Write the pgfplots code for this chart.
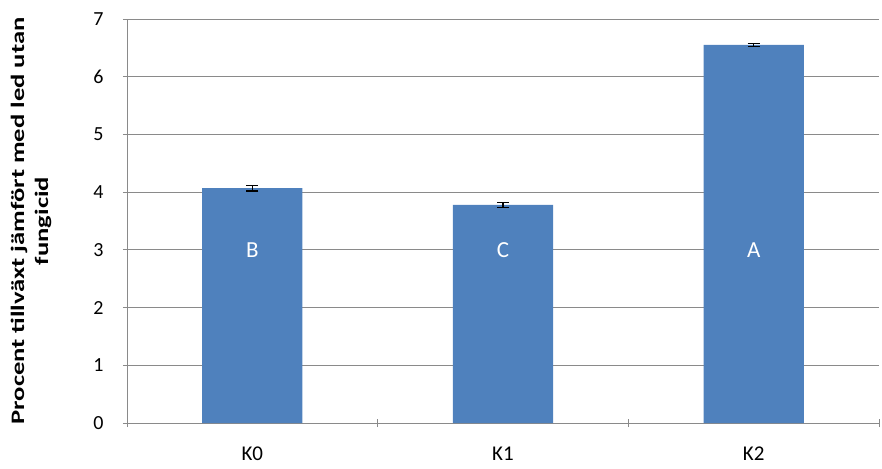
\documentclass[border=0pt]{standalone}
\usepackage{graphicx}
\usepackage{pgfplots}
\pgfplotsset{compat=1.18}
\usepackage{fontspec}
\setmainfont{Carlito}
\definecolor{barblue}{HTML}{4F81BD}
\definecolor{gridgray}{HTML}{8A8A8A}
\begin{document}
\begin{tikzpicture}
\begin{axis}[
  at={(0pt,0pt)}, anchor=south west,
  scale only axis,
  width=752pt, height=404pt,
  xmin=-0.5, xmax=2.5,
  ymin=0, ymax=7,
  ytick={0,1,2,3,4,5,6,7},
  xtick={0,1,2},
  xticklabels={K0,K1,K2},
  minor xtick={-0.5,0.5,1.5,2.5},
  major x tick style={draw=none},
  minor x tick style={gridgray, line width=0.8pt},
  minor tick length=8pt,
  major tick length=8pt,
  tick align=outside,
  axis lines=left,
  axis line style={-, gridgray, line width=0.8pt},
  ymajorgrids,
  grid style={gridgray, line width=0.8pt},
  ytick style={gridgray, line width=0.8pt},
  yticklabel style={font=\fontsize{20}{24}\selectfont, black, xshift=-16pt},
  xticklabel style={font=\fontsize{21}{25}\selectfont, black, yshift=-16pt},
  /pgf/number format/assume math mode=true,
  ylabel={\scalebox{1.4}[1]{Procent tillväxt jämfört med led utan}\\[3pt]\scalebox{1.4}[1]{fungicid}},
  ylabel style={font=\bfseries\fontsize{19}{21}\selectfont, align=center, at={(axis description cs:0,0.5)}, anchor=center, yshift=96pt, inner sep=0pt},
  clip=false,
]
\addplot[ybar, bar width=0.4, fill=barblue, draw=none,
  error bars/.cd, y dir=both, y explicit,
  error bar style={black, line width=1.2pt},
  error mark options={black, line width=1.2pt, mark size=6pt, rotate=90}]
  coordinates {(0,4.07) +- (0,0.05) (1,3.78) +- (0,0.04) (2,6.55) +- (0,0.03)};
\node[white, font=\fontsize{23}{27}\selectfont] at (axis cs:0,3) {B};
\node[white, font=\fontsize{23}{27}\selectfont] at (axis cs:1,3) {C};
\node[white, font=\fontsize{23}{27}\selectfont] at (axis cs:2,3) {A};
\end{axis}
\path[use as bounding box] (-127pt,-45pt) rectangle (755pt,423pt);
\end{tikzpicture}
\end{document}
